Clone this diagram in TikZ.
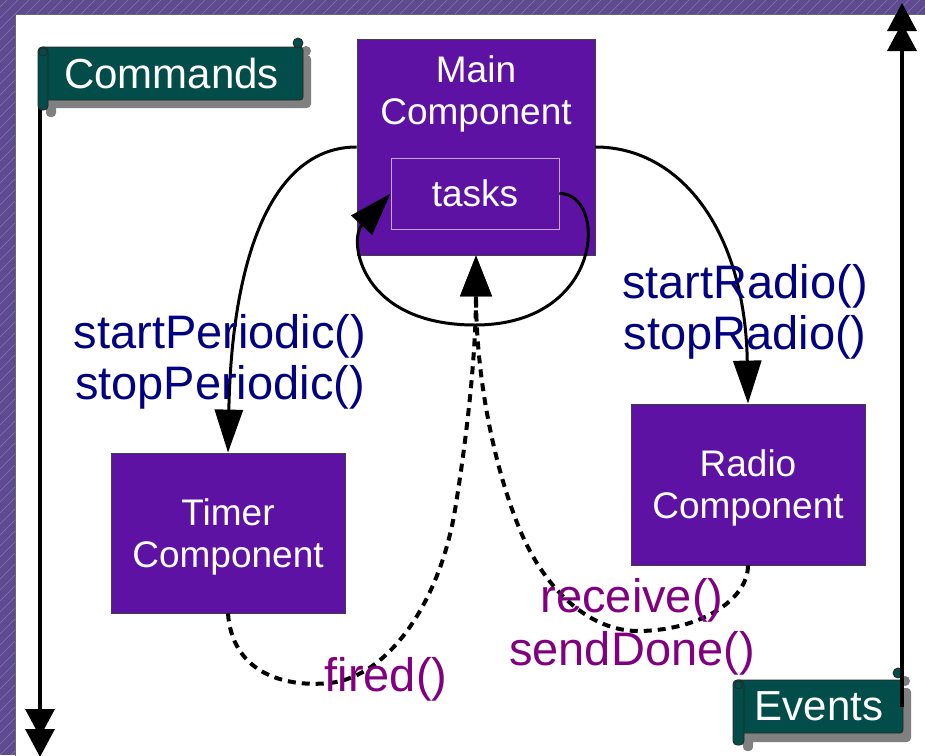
\documentclass[tikz,border=0pt]{standalone}
\usepackage{fontspec}
\setmainfont{Liberation Sans}
\usetikzlibrary{arrows.meta}
\definecolor{bgpurple}{HTML}{5D4A8F}
\definecolor{hatchc}{HTML}{8575B5}
\definecolor{compfill}{HTML}{5E12A3}
\definecolor{bannerc}{HTML}{024D49}
\definecolor{shadowc}{HTML}{808080}
\definecolor{navyc}{HTML}{000080}
\definecolor{purplec}{HTML}{800080}
\definecolor{tasksline}{HTML}{C9A6F0}
\begin{document}
\begin{tikzpicture}[x=1pt,y=-1pt,
  comp/.style={fill=compfill, draw=black!75, line width=0.8pt, text=white, align=center, font=\fontsize{37}{42}\selectfont, inner sep=0pt},
  comptext/.style={text=white, align=center, font=\fontsize{37}{42}\selectfont, inner sep=0pt},
  banner/.style={fill=bannerc, draw=black!85, line width=0.8pt, rounded corners=3pt, text=white, font=\fontsize{42}{48}\selectfont, inner sep=0pt},
  bshadow/.style={fill=shadowc, rounded corners=4pt},
  curl/.style={fill=bannerc, draw=black!85, line width=0.8pt},
  flow/.style={line width=3pt, -{Triangle[width=28pt,length=43pt]}},
  evflow/.style={line width=4pt, dash pattern=on 8pt off 6pt, -{Triangle[width=31pt,length=41pt]}},
  axisarrow/.style={line width=3.5pt, -{Triangle[width=29pt,length=28pt,sep=-8pt]Triangle[width=29pt,length=28pt]}},
  cmdlabel/.style={text=navyc, align=center, font=\fontsize{47}{51}\selectfont, inner sep=0pt},
  evlabel/.style={text=purplec, align=center, font=\fontsize{47}{53}\selectfont, inner sep=0pt}
]
\useasboundingbox (0,0) rectangle (925,755);
% background frame
\fill[bgpurple] (0,0) rectangle (925,755);
\begin{scope}
  \clip (0,0) rectangle (925,755);
  \foreach \i in {-770,-759,...,925} \draw[hatchc, line width=0.5pt] (\i,755) -- (\i+755,0);
\end{scope}
\fill[white, draw=black!60, line width=1pt] (15,14) rectangle (940,770);

% Commands banner and its axis
\coordinate (cmdtop) at (40,75);
\coordinate (cmdend) at (40,757);
\draw[axisarrow] (cmdtop) -- (cmdend);
\fill[bshadow] (48,55) rectangle (311,108);
\fill[bshadow] (46,100) rectangle (56,117);
\fill[shadowc] (306,51) circle (5pt);
\node[banner, minimum width=263pt, minimum height=53pt] (commands) at (171.5,73.5) {Commands};
\draw[curl, rounded corners=4pt] (38,47) rectangle (48,110);
\draw[curl] (43,52) circle (4pt);
\draw[curl] (298,43) circle (5pt);

% Events banner and its axis
\fill[bshadow] (743,688) rectangle (911,742);
\fill[bshadow] (743,733) rectangle (753,751);
\fill[shadowc] (905,681) circle (5pt);
\node[banner, minimum width=168pt, minimum height=53pt] (events) at (819,706.5) {Events};
\draw[curl, rounded corners=4pt] (733,680) rectangle (744,745);
\draw[curl] (738.5,685) circle (4pt);
\draw[curl] (898,673) circle (5pt);
\coordinate (evtbot) at (902,707);
\coordinate (evttop) at (902,3);
\draw[axisarrow] (evtbot) -- (evttop);

% components
\node[comp, minimum width=238pt, minimum height=216pt] (main) at (476,147) {};
\node[comptext] (maintitle) at (476,94) {Main\\Component};
\node[draw=tasksline, line width=0.8pt, minimum width=168pt, minimum height=71pt, inner sep=0pt, text=white, font=\fontsize{37}{42}\selectfont] (tasks) at (475,193.5) {tasks};
\node[comp, text depth=0pt, minimum width=234pt, minimum height=160pt] (timer) at (228,533) {Timer\\Component};
\node[comp, text depth=0pt, minimum width=234pt, minimum height=161pt] (radio) at (748,484.5) {Radio\\Component};

% commands (solid)
\draw[flow] (main.west) .. controls (275,147) and (232,250) .. (timer.north);
\draw[flow] (main.east) .. controls (680,147) and (745,230) .. (radio.north);
\draw[flow] (tasks.east) .. controls (608,193) and (605,325) .. (475,325) .. controls (360,325) and (348,240) .. (tasks.west);

% events (dashed)
\draw[evflow] (timer.south) .. controls (232,670) and (280,688) .. (330,683) .. controls (390,676) and (440,600) .. (455,510) .. controls (468,430) and (476,350) .. (main.south);
\draw[evflow] (radio.south) .. controls (748,600) and (700,630) .. (640,631) .. controls (590,632) and (545,590) .. (520,530) .. controls (495,470) and (476,380) .. (main.south);

% labels
\node[cmdlabel] (lblperiodic) at (220,362) {startPeriodic()\\stopPeriodic()};
\node[cmdlabel] (lblradio) at (745,312) {startRadio()\\stopRadio()};
\node[evlabel] (lblfired) at (386,679) {fired()};
\node[evlabel] (lblreceive) at (632,627) {receive()\\sendDone()};
\end{tikzpicture}
\end{document}
